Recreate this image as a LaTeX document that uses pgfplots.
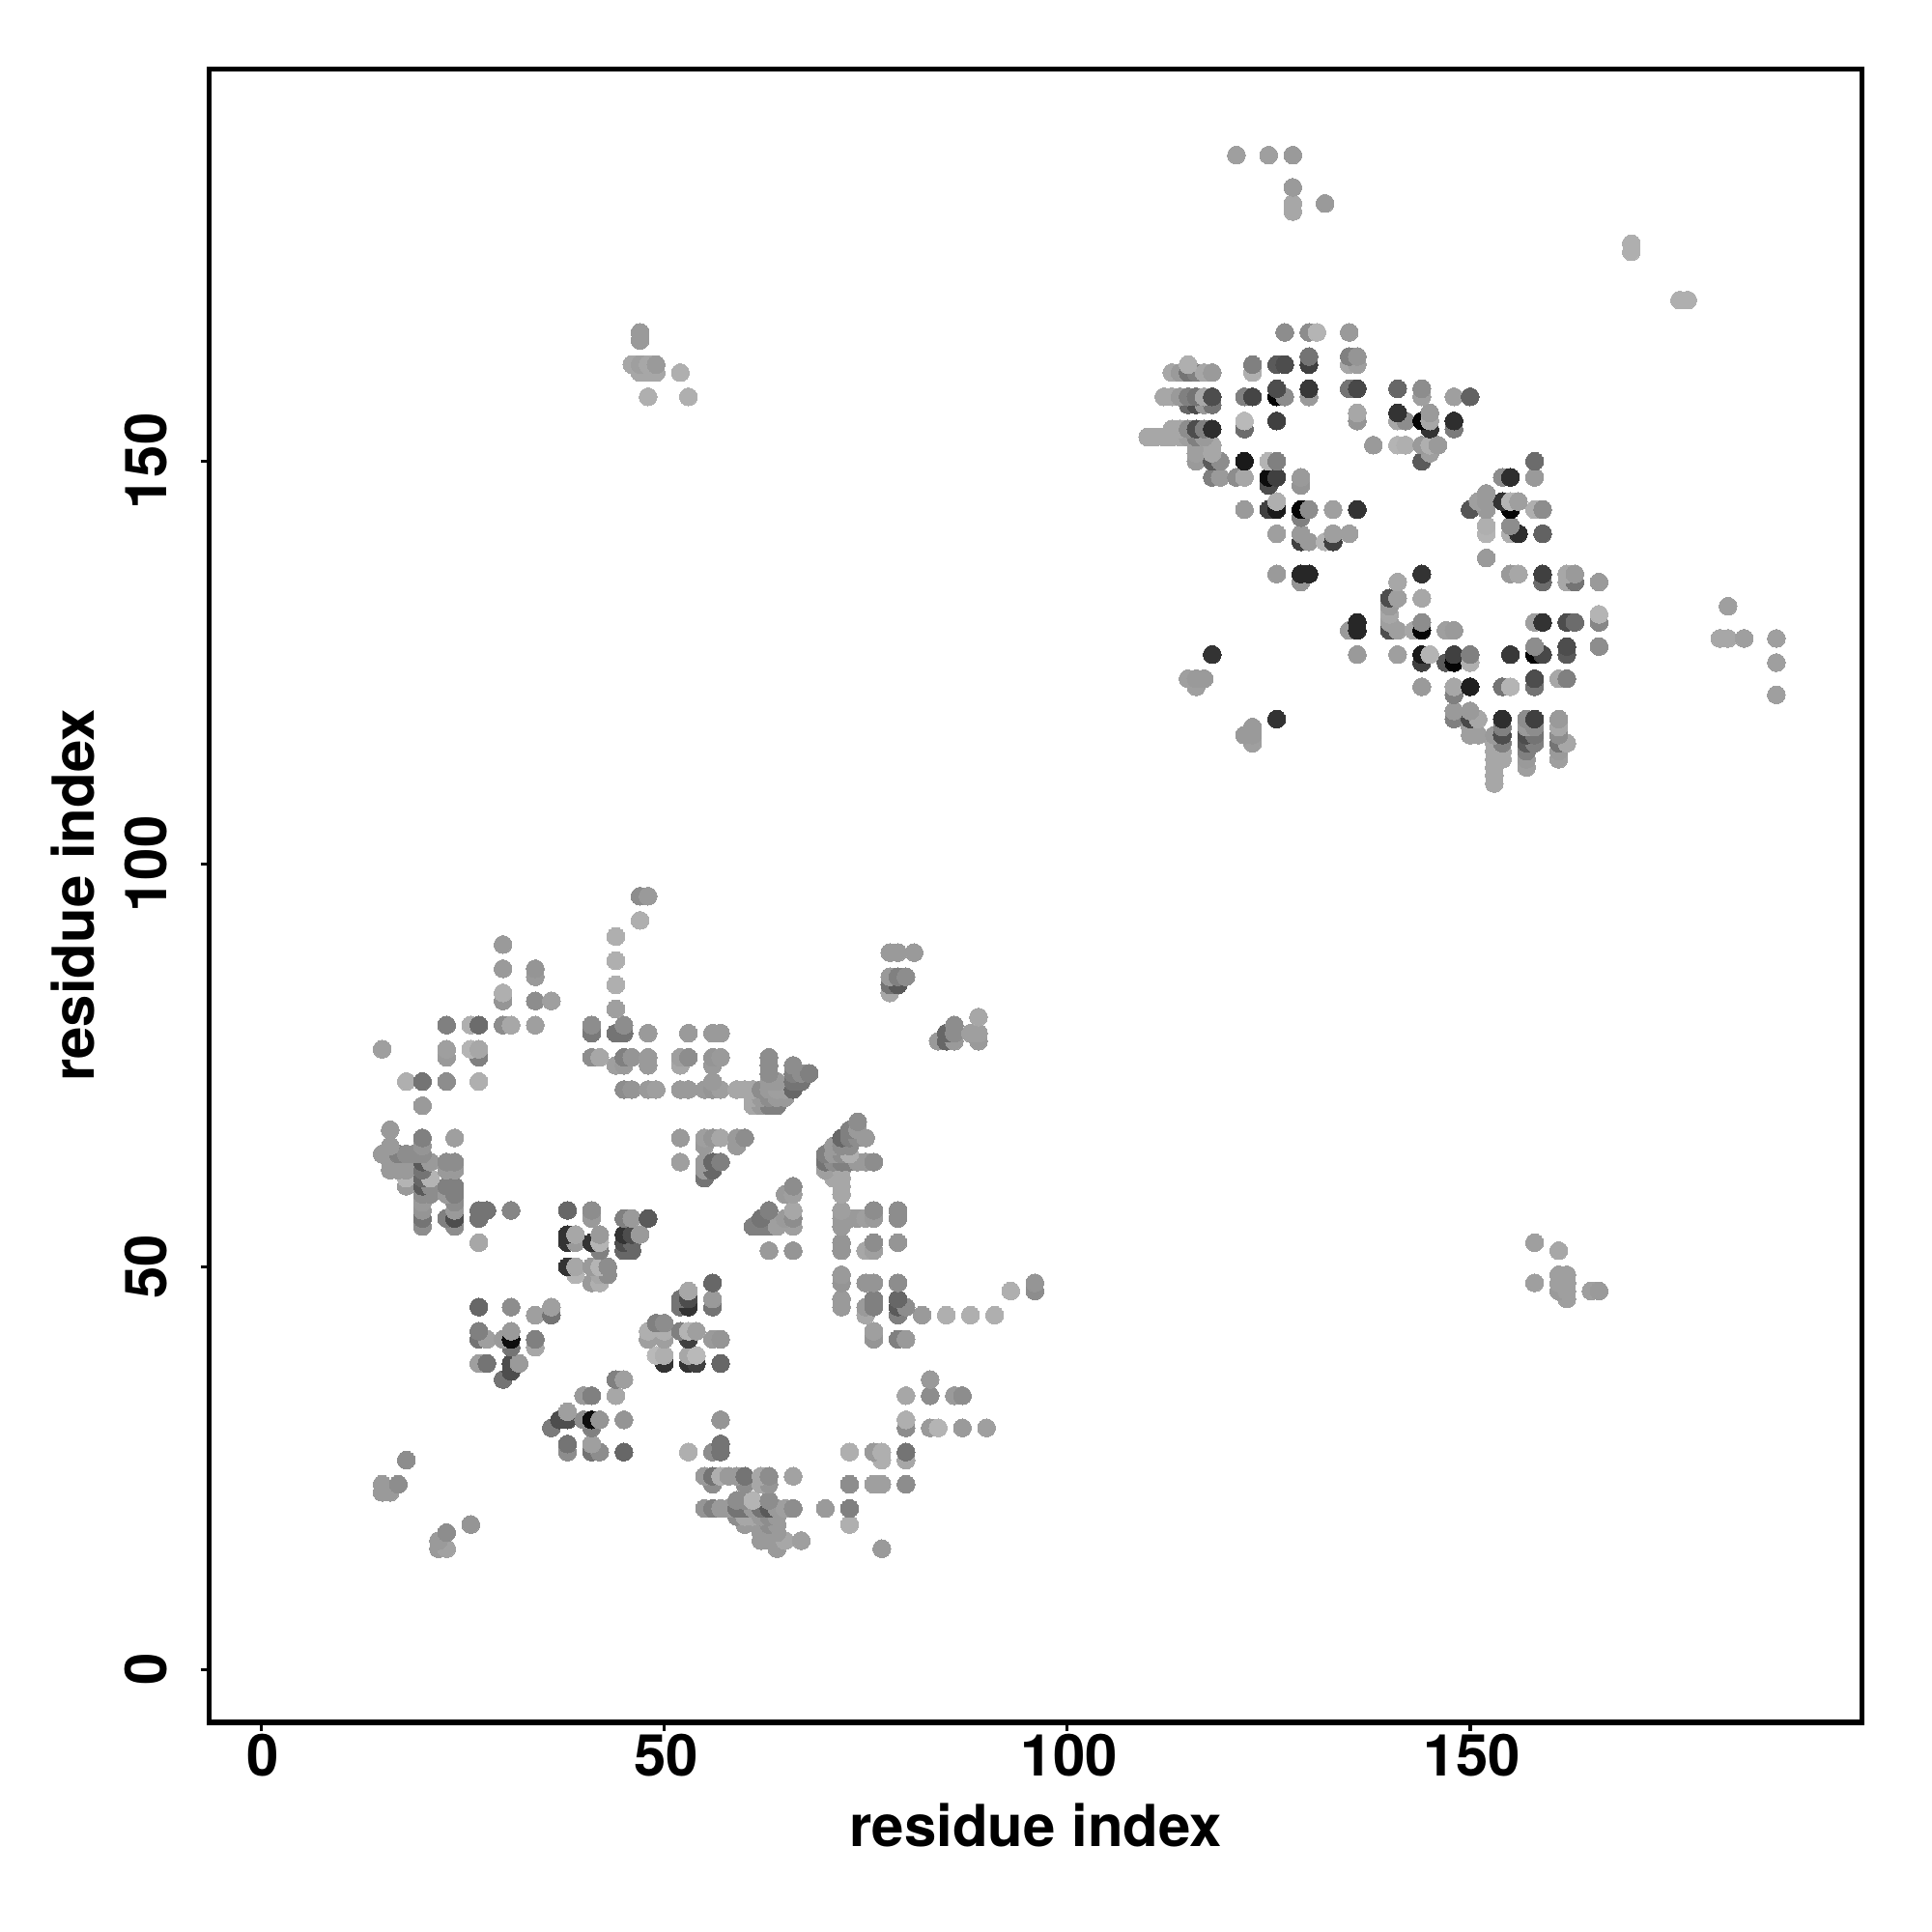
\documentclass[border=0pt]{standalone}
\usepackage{fontspec}
\setmainfont{TeX Gyre Heros}
\usepackage{pgfplots}
\pgfplotsset{compat=1.18}
\begin{document}
\begin{tikzpicture}
\path[use as bounding box] (0,0) rectangle (20,20);
\begin{axis}[
  at={(2.168cm,2.17cm)}, anchor=south west,
  scale only axis, width=17.105cm, height=17.116cm,
  xmin=-6.43, xmax=198.6, ymin=-6.56, ymax=198.7,
  axis line style={line width=1.5pt},
  xtick={0,50,100,150}, ytick={0,50,100,150},
  tick align=outside, tick pos=left,
  major tick length=0.09cm,
  tick style={line width=1pt,black},
  /pgf/number format/assume math mode=true,
  tick label style={font=\bfseries\fontsize{17.05}{17}\selectfont},
  xticklabel style={yshift=0.09cm,xshift=0.02cm},
  yticklabel style={xshift=-0.225cm,rotate=90,anchor=south},
  xlabel={residue index}, ylabel={residue index},
  label style={font=\bfseries\fontsize{17.05}{17}\selectfont},
  xlabel style={at={(axis description cs:0.5,0)},anchor=base,yshift=-1.29cm},
  ylabel style={at={(axis description cs:0,0.5)},anchor=base,rotate=0,yshift=1.19cm},
  colormap={g}{gray(0cm)=(0); gray(1cm)=(1)},
  point meta min=0, point meta max=1,
]
\addplot[scatter, only marks, mark=*, mark size=2.63pt, line width=0pt,
  scatter src=explicit,
  scatter/use mapped color={draw=mapped color,fill=mapped color}]
coordinates {
(22,15)[.6](23,15)[.63](64,15)[.6](77,15)[.6]
(22,16)[.6](62,16)[.6](63,16)[.6](64,16)[.6](65,16)[.65](67,16)[.62]
(23,17)[.55](62,17)[.6](63,17)[.6](64,17)[.6]
(26,18)[.58](60,18)[.6](62,18)[.6](63,18)[.55](64,18)[.6](73,18)[.68]
(59,19)[.55](60,19)[.65](61,19)[.65](62,19)[.6](63,19)[.55](64,19)[.6]
(55,20)[.58](56,20)[.5](57,20)[.6](58,20)[.6](59,20)[.45](60,20)[.45](61,20)[.6](62,20)[.45](63,20)[.35](64,20)[.6](65,20)[.62](66,20)[.55](70,20)[.6](73,20)[.5]
(59,21)[.55](60,21)[.55](61,21)[.7](63,21)[.55]
(15,22)[.6](16,22)[.6]
(15,23)[.6](17,23)[.55](56,23)[.55](60,23)[.55](62,23)[.65](63,23)[.58](73,23)[.55](76,23)[.62](77,23)[.62](80,23)[.55]
(55,24)[.6](56,24)[.45](57,24)[.68](58,24)[.6](59,24)[.6](60,24)[.45](62,24)[.65](63,24)[.55](66,24)[.63]
(18,26)[.55](77,26)[.68](80,26)[.65]
(38,27)[.55](41,27)[.45](42,27)[.55](45,27)[.4](53,27)[.68](56,27)[.55](57,27)[.45](73,27)[.68](76,27)[.6](77,27)[.68](80,27)[.45]
(38,28)[.45](41,28)[.62](57,28)[.45]
(36,30)[.48](41,30)[.5](80,30)[.55](83,30)[.6](84,30)[.7](87,30)[.6](90,30)[.62]
(37,31)[.3](38,31)[.3](40,31)[.55](41,31)[.05](42,31)[.58](45,31)[.58](57,31)[.58](80,31)[.68]
(38,32)[.62]
(40,34)[.6](41,34)[.5](44,34)[.65](80,34)[.65](83,34)[.55](86,34)[.6](87,34)[.55]
(30,36)[.45](44,36)[.5](45,36)[.62](83,36)[.6]
(31,37)[.3]
(27,38)[.62](28,38)[.45](31,38)[.3](32,38)[.6](50,38)[.2](53,38)[.2](54,38)[.25](57,38)[.4]
(49,39)[.72](50,39)[.68](53,39)[.65](54,39)[.72]
(31,40)[.45](34,40)[.65]
(27,41)[.45](28,41)[.62](30,41)[.6](31,41)[.05](34,41)[.5](48,41)[.62](50,41)[.62](53,41)[.25](56,41)[.6](57,41)[.58](76,41)[.58](79,41)[.5](80,41)[.6]
(27,42)[.5](31,42)[.6](48,42)[.68](50,42)[.68](52,42)[.5](53,42)[.7](54,42)[.62](76,42)[.62]
(49,43)[.5](50,43)[.55]
(34,44)[.62](36,44)[.45](75,44)[.65](79,44)[.5](82,44)[.6](85,44)[.68](88,44)[.68](91,44)[.68]
(27,45)[.4](31,45)[.55](36,45)[.62](52,45)[.45](53,45)[.2](56,45)[.45](72,45)[.6](75,45)[.6](76,45)[.5](79,45)[.35](80,45)[.55]
(52,46)[.45](53,46)[.3](56,46)[.6](72,46)[.6](76,46)[.5](79,46)[.4](162,46)[.62]
(53,47)[.65](93,47)[.68](96,47)[.55](161,47)[.6](162,47)[.62](165,47)[.62](166,47)[.6]
(41,48)[.6](42,48)[.68](56,48)[.4](72,48)[.58](75,48)[.58](76,48)[.58](79,48)[.55](96,48)[.58](158,48)[.62](161,48)[.62](162,48)[.62]
(39,49)[.7](42,49)[.65](43,49)[.55](72,49)[.6](161,49)[.62](162,49)[.62]
(38,50)[.2](39,50)[.65](41,50)[.6](42,50)[.7](43,50)[.55]
(42,52)[.5](45,52)[.4](46,52)[.4](63,52)[.6](66,52)[.58](72,52)[.58](75,52)[.65](76,52)[.62](161,52)[.65]
(27,53)[.65](38,53)[.2](39,53)[.6](41,53)[.2](42,53)[.7](45,53)[.3](46,53)[.4](72,53)[.58](76,53)[.55](79,53)[.58](158,53)[.62]
(38,54)[.2](39,54)[.65](42,54)[.6](45,54)[.2](46,54)[.3](47,54)[.6]
(20,55)[.55](24,55)[.55](61,55)[.5](62,55)[.5](63,55)[.5](64,55)[.62](66,55)[.62](72,55)[.6]
(20,56)[.45](23,56)[.5](24,56)[.3](27,56)[.45](41,56)[.6](45,56)[.5](46,56)[.6](48,56)[.35](62,56)[.45](65,56)[.6](66,56)[.55](72,56)[.6](73,56)[.6](74,56)[.6](75,56)[.62](76,56)[.6](79,56)[.55]
(20,57)[.58](24,57)[.6](27,57)[.45](28,57)[.45](31,57)[.52](38,57)[.4](41,57)[.55](63,57)[.5](66,57)[.65](72,57)[.62](76,57)[.55](79,57)[.55]
(20,58)[.6](24,58)[.55]
(20,59)[.55](21,59)[.55](23,59)[.6](24,59)[.5](65,59)[.6](66,59)[.62](72,59)[.65]
(18,60)[.6](20,60)[.35](21,60)[.55](23,60)[.5](24,60)[.5](66,60)[.55](72,60)[.65]
(18,61)[.7](20,61)[.4](21,61)[.7](55,61)[.45](71,61)[.65](72,61)[.65]
(16,62)[.6](17,62)[.6](18,62)[.6](20,62)[.45](23,62)[.6](24,62)[.6](55,62)[.6](56,62)[.4](70,62)[.62](72,62)[.65]
(16,63)[.6](17,63)[.6](18,63)[.6](20,63)[.35](21,63)[.6](23,63)[.55](24,63)[.55](52,63)[.62](55,63)[.6](56,63)[.4](57,63)[.5](70,63)[.45](71,63)[.55](72,63)[.5](73,63)[.5](74,63)[.6](75,63)[.6](76,63)[.55]
(15,64)[.6](16,64)[.6](17,64)[.5](18,64)[.55](19,64)[.55](20,64)[.55](70,64)[.5](71,64)[.6](72,64)[.55](73,64)[.68]
(16,65)[.6](20,65)[.58](55,65)[.6](59,65)[.6](71,65)[.6](72,65)[.55](73,65)[.55]
(20,66)[.5](24,66)[.62](52,66)[.6](55,66)[.62](56,66)[.58](57,66)[.65](59,66)[.6](60,66)[.55](72,66)[.4](73,66)[.5](74,66)[.55](75,66)[.6]
(16,67)[.6](73,67)[.5](74,67)[.6]
(74,68)[.55]
(20,70)[.6](61,70)[.65](62,70)[.6](63,70)[.5](64,70)[.5]
(61,71)[.65](62,71)[.6](63,71)[.55](64,71)[.6](65,71)[.6]
(45,72)[.55](46,72)[.58](48,72)[.6](49,72)[.62](52,72)[.6](53,72)[.6](55,72)[.6](56,72)[.58](57,72)[.62](59,72)[.65](60,72)[.65](61,72)[.65](62,72)[.55](63,72)[.6](64,72)[.62](65,72)[.62](66,72)[.4]
(18,73)[.68](20,73)[.45](23,73)[.55](27,73)[.68](56,73)[.6](63,73)[.6](64,73)[.6](66,73)[.45](67,73)[.45]
(63,74)[.55](66,74)[.5](67,74)[.55](68,74)[.5]
(44,75)[.62](45,75)[.6](48,75)[.6](52,75)[.65](56,75)[.6](63,75)[.55](66,75)[.55]
(23,76)[.6](27,76)[.5](41,76)[.55](42,76)[.65](45,76)[.5](46,76)[.58](48,76)[.6](52,76)[.62](53,76)[.55](56,76)[.58](57,76)[.6](63,76)[.55]
(15,77)[.62](23,77)[.62](26,77)[.7](27,77)[.65]
(84,78)[.6](85,78)[.4](86,78)[.6](89,78)[.6]
(41,79)[.47](44,79)[.45](45,79)[.45](48,79)[.6](53,79)[.6](56,79)[.6](57,79)[.6](85,79)[.4](86,79)[.55](88,79)[.62](89,79)[.62]
(23,80)[.5](26,80)[.68](27,80)[.42](30,80)[.55](31,80)[.65](34,80)[.62](41,80)[.55](45,80)[.55](86,80)[.55]
(89,81)[.65]
(44,82)[.62]
(30,83)[.58](34,83)[.55](36,83)[.62]
(30,84)[.68](78,84)[.65]
(44,85)[.68](78,85)[.45](79,85)[.35]
(34,86)[.6](78,86)[.6](79,86)[.5](80,86)[.55]
(30,87)[.6](34,87)[.58]
(44,88)[.68]
(78,89)[.6](79,89)[.6](81,89)[.6]
(30,90)[.6]
(44,91)[.68]
(47,93)[.68]
(47,96)[.55](48,96)[.6]
(153,110)[.65]
(153,111)[.65]
(153,112)[.65](157,112)[.62]
(153,113)[.65](154,113)[.65](157,113)[.6](161,113)[.62]
(153,114)[.65](154,114)[.65](157,114)[.5](161,114)[.6]
(123,115)[.62](153,115)[.65](154,115)[.5](157,115)[.35](158,115)[.5](161,115)[.45](162,115)[.65]
(122,116)[.6](123,116)[.6](150,116)[.62](151,116)[.62](153,116)[.6](154,116)[.3](157,116)[.3](158,116)[.45](161,116)[.55]
(123,117)[.6](150,117)[.62](154,117)[.5](157,117)[.6](158,117)[.55](161,117)[.65]
(126,118)[.2](148,118)[.5](150,118)[.28](151,118)[.65](154,118)[.18](157,118)[.55](158,118)[.25](161,118)[.6]
(148,119)[.6](150,119)[.6]
(188,121)[.62]
(148,121)[.5]
(116,122)[.62](144,122)[.6](148,122)[.65](150,122)[.12](154,122)[.45](155,122)[.7](158,122)[.45]
(115,123)[.62](116,123)[.6](117,123)[.6](158,123)[.3](161,123)[.65](162,123)[.5]
(144,125)[.25](147,125)[.35](148,125)[.02](150,125)[.68](188,125)[.62]
(118,126)[.2](136,126)[.6](141,126)[.62](144,126)[.1](145,126)[.7](148,126)[.25](150,126)[.5](155,126)[.22](158,126)[.02](159,126)[.28](162,126)[.35]
(158,127)[.55](162,127)[.3](166,127)[.55]
(181,128)[.65](182,128)[.65](184,128)[.62](188,128)[.62]
(135,129)[.6](136,129)[.15](140,129)[.3](141,129)[.62](143,129)[.65](144,129)[.02](147,129)[.62](148,129)[.6]
(136,130)[.15](140,130)[.62](144,130)[.55](158,130)[.62](159,130)[.2](162,130)[.3](163,130)[.42](166,130)[.52]
(140,131)[.65](166,131)[.7]
(140,132)[.6](182,132)[.62]
(140,133)[.3](141,133)[.62](144,133)[.65]
(129,135)[.58](141,135)[.65](159,135)[.42](162,135)[.65](163,135)[.45](166,135)[.6]
(126,136)[.6](129,136)[.15](130,136)[.15](144,136)[.2](155,136)[.6](156,136)[.65](159,136)[.25](162,136)[.65](163,136)[.6]
(152,138)[.6]
(129,140)[.25](130,140)[.6](132,140)[.7](133,140)[.25]
(126,141)[.62](129,141)[.6](133,141)[.62](135,141)[.62](152,141)[.7](155,141)[.68](156,141)[.18](159,141)[.38]
(152,142)[.68](155,142)[.55]
(129,143)[.5]
(122,144)[.6](125,144)[.25](126,144)[.1](129,144)[.02](130,144)[.55](133,144)[.62](136,144)[.2](150,144)[.33](152,144)[.6](155,144)[.02](158,144)[.68](159,144)[.55]
(126,145)[.68](151,145)[.62](152,145)[.6](154,145)[.2](155,145)[.7](156,145)[.62]
(152,146)[.6]
(125,147)[.3](129,147)[.58]
(118,148)[.5](119,148)[.6](121,148)[.55](122,148)[.65](125,148)[.05](126,148)[.25](129,148)[.6](154,148)[.55](155,148)[.18](158,148)[.6]
(116,150)[.6](118,150)[.35](119,150)[.55](122,150)[.1](125,150)[.7](126,150)[.5](144,150)[.35](158,150)[.42]
(116,151)[.62](118,151)[.65](145,151)[.62]
(116,152)[.62](118,152)[.65](138,152)[.6](141,152)[.7](142,152)[.68](144,152)[.6](145,152)[.68](146,152)[.6]
(110,153)[.65](111,153)[.65](112,153)[.65](113,153)[.65](114,153)[.65](115,153)[.62](116,153)[.5](117,153)[.6]
(113,154)[.65](114,154)[.65](115,154)[.55](116,154)[.3](117,154)[.5](118,154)[.18](122,154)[.42](145,154)[.2](148,154)[.48]
(122,155)[.72](126,155)[.25](136,155)[.58](141,155)[.65](142,155)[.55](144,155)[.02](145,155)[.65](148,155)[.18]
(136,156)[.65](141,156)[.2](145,156)[.6]
(115,157)[.4](116,157)[.3](117,157)[.6](118,157)[.45]
(48,158)[.68](53,158)[.68](112,158)[.65](113,158)[.65](114,158)[.6](115,158)[.5](116,158)[.45](117,158)[.65](118,158)[.3](122,158)[.5](123,158)[.27](126,158)[.02](127,158)[.55](130,158)[.6](144,158)[.62](148,158)[.62](150,158)[.38]
(126,159)[.3](130,159)[.22](135,159)[.45](136,159)[.28](141,159)[.4](144,159)[.55]
(47,161)[.65](48,161)[.65](49,161)[.65](52,161)[.68](113,161)[.65](114,161)[.6](115,161)[.45](116,161)[.5](117,161)[.65](118,161)[.6](123,161)[.68]
(46,162)[.65](47,162)[.62](48,162)[.65](49,162)[.6](115,162)[.68](123,162)[.5](126,162)[.35](127,162)[.3](130,162)[.25](135,162)[.65](136,162)[.62]
(130,163)[.45](135,163)[.5](136,163)[.58]
(47,165)[.6]
(47,166)[.6](127,166)[.55](130,166)[.55](131,166)[.7](135,166)[.6]
(176,170)[.68](177,170)[.68]
(170,176)[.68]
(170,177)[.68]
(128,181)[.65]
(128,182)[.65](132,182)[.6]
(128,184)[.6]
(121,188)[.62](125,188)[.62](128,188)[.6]
};
\end{axis}
\end{tikzpicture}
\end{document}
